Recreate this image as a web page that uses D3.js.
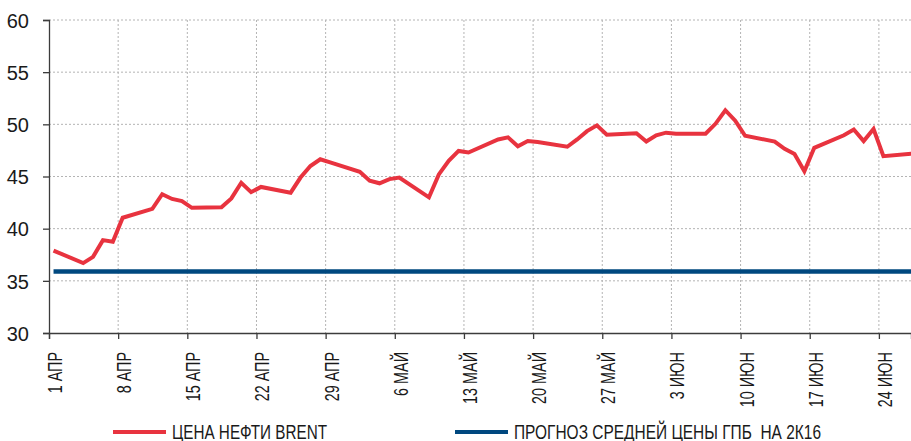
<!DOCTYPE html>
<meta charset="utf-8">
<html>
<head>
    <title>Brent</title>
    <script type="text/javascript" src="https://cdn.jsdelivr.net/npm/d3@7"></script>
    <style type="text/css">
        html, body {
            padding: 0px;
            margin: 0px;
            background: #fff;
        }
        svg text {
            font-family: "Liberation Sans", Arial, sans-serif;
            font-size: 20px;
            fill: #1a1a1a;
        }
    </style>
</head>
<body>
    <svg id="svg"></svg>
    <script type="text/javascript">
        // торговые дни (2016) и цена Brent, долл./барр.
        var tradeDates = [
          "2016-04-01","2016-04-04","2016-04-05","2016-04-06","2016-04-07","2016-04-08",
          "2016-04-11","2016-04-12","2016-04-13","2016-04-14","2016-04-15",
          "2016-04-18","2016-04-19","2016-04-20","2016-04-21","2016-04-22",
          "2016-04-25","2016-04-26","2016-04-27","2016-04-28","2016-04-29",
          "2016-05-02","2016-05-03","2016-05-04","2016-05-05","2016-05-06",
          "2016-05-09","2016-05-10","2016-05-11","2016-05-12","2016-05-13",
          "2016-05-16","2016-05-17","2016-05-18","2016-05-19","2016-05-20",
          "2016-05-23","2016-05-24","2016-05-25","2016-05-26","2016-05-27",
          "2016-05-30","2016-05-31","2016-06-01","2016-06-02","2016-06-03",
          "2016-06-06","2016-06-07","2016-06-08","2016-06-09","2016-06-10",
          "2016-06-13","2016-06-14","2016-06-15","2016-06-16","2016-06-17",
          "2016-06-20","2016-06-21","2016-06-22","2016-06-23","2016-06-24",
          "2016-06-27"
        ]
        var brent = [
          37.9, 36.7, 37.3, 38.9, 38.75, 41.05,
          41.9, 43.3, 42.85, 42.65, 42.0,
          42.05, 42.9, 44.4, 43.5, 44.0,
          43.45, 44.9, 46.0, 46.65, 46.35,
          45.45, 44.6, 44.35, 44.75, 44.9,
          43.0, 45.2, 46.5, 47.45, 47.3,
          48.55, 48.75, 47.9, 48.4, 48.3,
          47.85, 48.55, 49.35, 49.9, 49.0,
          49.15, 48.35, 48.95, 49.2, 49.1,
          49.1, 50.05, 51.35, 50.35, 48.9,
          48.35, 47.65, 47.15, 45.5, 47.75,
          48.95, 49.5, 48.4, 49.55, 46.95,
          47.2
        ]
        // прогноз средней цены
        var forecast = 35.9
        // подписи оси X
        var tickDates = ["2016-04-01","2016-04-08","2016-04-15","2016-04-22","2016-04-29",
          "2016-05-06","2016-05-13","2016-05-20","2016-05-27","2016-06-03",
          "2016-06-10","2016-06-17","2016-06-24"]
        var tickLabels = ["1 АПР","8 АПР","15 АПР","22 АПР","29 АПР","6 МАЙ","13 МАЙ",
          "20 МАЙ","27 МАЙ","3 ИЮН","10 ИЮН","17 ИЮН","24 ИЮН"]
        var yTicks = [30, 35, 40, 45, 50, 55, 60]
        var legendNames = ["ЦЕНА НЕФТИ BRENT", "ПРОГНОЗ СРЕДНЕЙ ЦЕНЫ ГПБ  НА 2К16"]

        var width = 911, height = 441
        // window.top занят браузером, поэтому свои имена
        var mLeft = 49, mTop = 20, mBottom = 333, mRight = 911
        var red = "#e8333f", blue = "#00487f"
        var squeeze = 0.72   // подписи в оригинале узкие (Arial Narrow)

        var parse = d3.timeParse("%Y-%m-%d")
        // точки ставятся внутри дня (как в Excel)
        var shift = function (d) { return d3.timeHour.offset(parse(d), 11) }
        var data = tradeDates.map(function (d, i) { return { date: shift(d), value: brent[i] } })
        var ticks = tickDates.map(parse)

        var svg = d3.select('svg').attr('width', width).attr('height', height)

        var x = d3.scaleTime()
          .domain([parse("2016-04-01"), d3.timeHour.offset(parse("2016-06-27"), 6)])
          .range([mLeft, mRight])
        var y = d3.scaleLinear().domain([30, 60]).range([mBottom, mTop])

        svg.append("defs").append("clipPath").attr("id", "clip")
          .append("rect").attr("x", mLeft).attr("y", 0)
          .attr("width", mRight - mLeft).attr("height", mBottom)

        // сетка
        var grid = svg.append("g").attr("class", "grid")
        grid.selectAll("line.h").data(yTicks.slice(1)).enter().append("line")
          .attr("class", "h")
          .attr("x1", mLeft).attr("x2", mRight)
          .attr("y1", function (d) { return y(d) }).attr("y2", function (d) { return y(d) })
        grid.selectAll("line.v").data(ticks.slice(1)).enter().append("line")
          .attr("class", "v")
          .attr("x1", function (d) { return x(d) }).attr("x2", function (d) { return x(d) })
          .attr("y1", mTop).attr("y2", mBottom)
        grid.selectAll("line")
          .attr("stroke", "#b4b4b4").attr("stroke-width", 1).attr("stroke-dasharray", "2,2")

        // ось Y
        var yAxis = svg.append("g").attr("transform", "translate(" + mLeft + ",0)")
          .call(d3.axisLeft(y).tickValues(yTicks).tickSize(6).tickPadding(14))
        yAxis.attr("font-family", null).attr("font-size", null)
        yAxis.select(".domain").attr("stroke", "#3c3c3c").attr("stroke-width", 1.3)
        yAxis.selectAll(".tick line").attr("stroke", "#3c3c3c").attr("stroke-width", 1.3)
        yAxis.selectAll(".tick text").attr("dy", "0.36em").attr("fill", "#1a1a1a")

        // ось X
        var xAxis = svg.append("g").attr("transform", "translate(0," + mBottom + ")")
          .call(d3.axisBottom(x).tickValues(ticks).tickSize(6)
            .tickFormat(function (d, i) { return tickLabels[i] }))
        xAxis.attr("font-family", null).attr("font-size", null)
        xAxis.select(".domain").attr("stroke", "#3c3c3c").attr("stroke-width", 1.3)
        xAxis.selectAll(".tick line").attr("stroke", "#3c3c3c").attr("stroke-width", 1.3)
        xAxis.selectAll(".tick text")
          .attr("transform", "rotate(-90) scale(" + squeeze + ",1)")
          .attr("x", -19 / squeeze).attr("y", 12.5).attr("dy", 0)
          .attr("text-anchor", "end")
          .attr("fill", "#1a1a1a")

        // линии
        var plot = svg.append("g").attr("clip-path", "url(#clip)")
        plot.append("line")
          .attr("x1", x(data[0].date)).attr("x2", mRight)
          .attr("y1", y(forecast)).attr("y2", y(forecast))
          .attr("stroke", blue).attr("stroke-width", 4.5)
        var line = d3.line()
          .x(function (d) { return x(d.date) })
          .y(function (d) { return y(d.value) })
        plot.append("path").datum(data)
          .attr("d", line)
          .attr("fill", "none")
          .attr("stroke", red)
          .attr("stroke-width", 4)
          .attr("stroke-linejoin", "miter")

        // легенда
        var legend = svg.append("g")
        var items = [
          { name: legendNames[0], color: red, x: 113, w: 155 },
          { name: legendNames[1], color: blue, x: 455, w: 307 }
        ]
        items.forEach(function (it) {
          legend.append("line")
            .attr("x1", it.x).attr("x2", it.x + 53)
            .attr("y1", 432).attr("y2", 432)
            .attr("stroke", it.color).attr("stroke-width", 4)
          legend.append("text")
            .attr("x", it.x + 59).attr("y", 438.5)
            .attr("textLength", it.w)
            .attr("lengthAdjust", "spacingAndGlyphs")
            .style("white-space", "pre")
            .text(it.name)
        })
    </script>
</body>
</html>
